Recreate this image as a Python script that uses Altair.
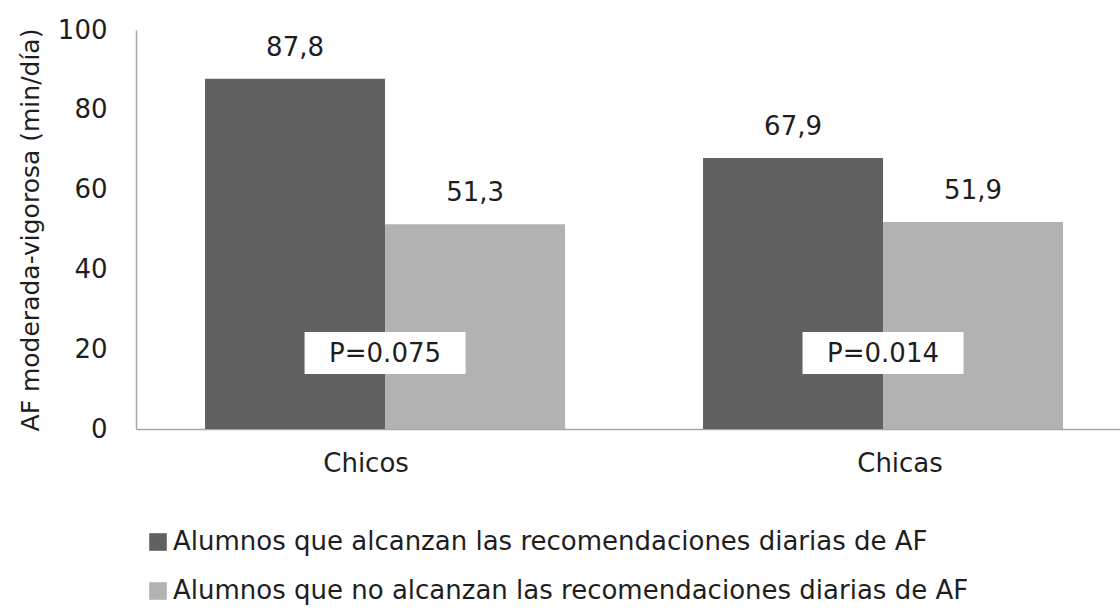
import altair as alt
import pandas as pd

categorias = ["Chicos", "Chicas"]
series = [
    "Alumnos que alcanzan las recomendaciones diarias de AF",
    "Alumnos que no alcanzan las recomendaciones diarias de AF",
]
alcanzan = [87.8, 67.9]
no_alcanzan = [51.3, 51.9]
etiquetas_alcanzan = ["87,8", "67,9"]
etiquetas_no = ["51,3", "51,9"]
p_valores = ["P=0.075", "P=0.014"]
p_caja_inf = [13.8, 13.8]
p_caja_sup = [24.3, 24.3]
p_texto = [18.8, 18.8]
colores = ["#616161", "#b2b2b2"]
ticks_y = [0, 20, 40, 60, 80, 100]
titulo_y = "AF moderada-vigorosa (min/día)"

FONT = "DejaVu Sans"
TXT = "#1e1e1e"
FS = 26

rows = []
for i, c in enumerate(categorias):
    rows.append({"cat": c, "serie": series[0], "valor": alcanzan[i], "etiqueta": etiquetas_alcanzan[i]})
    rows.append({"cat": c, "serie": series[1], "valor": no_alcanzan[i], "etiqueta": etiquetas_no[i]})
df = pd.DataFrame(rows)

pdf = pd.DataFrame({"cat": categorias, "p": p_valores, "y0": p_caja_inf, "y1": p_caja_sup, "ym": p_texto})
cdf = pd.DataFrame({"cat": categorias})

xscale = alt.Scale(domain=categorias, paddingInner=0.277, paddingOuter=0.1265, align=0.548)
xaxis = alt.Axis(labels=False, ticks=False, domainColor="#a6a6a6", domainWidth=1.5, title=None)
yscale = alt.Scale(domain=[0, 100])
yaxis = alt.Axis(values=ticks_y, grid=False, ticks=False, domainColor="#a6a6a6", domainWidth=1.5,
                 labelPadding=29, labelFontSize=FS, labelFont=FONT, labelColor=TXT,
                 title=titulo_y, titleFont=FONT, titleFontSize=25, titleFontWeight="normal",
                 titleColor=TXT, titlePadding=14)

X = lambda: alt.X("cat:N", scale=xscale, axis=xaxis, sort=categorias)
XO = alt.XOffset("serie:N", sort=series, scale=alt.Scale(domain=series, paddingInner=0, paddingOuter=0))

bars = alt.Chart(df).mark_bar().encode(
    x=X(),
    xOffset=XO,
    y=alt.Y("valor:Q", scale=yscale, axis=yaxis),
    color=alt.Color("serie:N", scale=alt.Scale(domain=series, range=colores),
                    legend=alt.Legend(orient="none", legendX=9, legendY=499, direction="vertical",
                                      title=None, symbolType="square", symbolSize=310,
                                      symbolStrokeWidth=0, labelFont=FONT, labelFontSize=FS,
                                      labelColor=TXT, labelOffset=2, rowPadding=23, labelLimit=1000,
                                      padding=0)),
)

labels = alt.Chart(df).mark_text(baseline="bottom", dy=-18, fontSize=FS, font=FONT, color=TXT).encode(
    x=X(),
    xOffset=XO,
    y=alt.Y("valor:Q", scale=yscale, axis=yaxis),
    text="etiqueta:N",
)

pbox = alt.Chart(pdf).mark_bar(width=161, color="white").encode(
    x=X(),
    y=alt.Y("y0:Q", scale=yscale, axis=yaxis),
    y2="y1:Q",
)

ptext = alt.Chart(pdf).mark_text(baseline="middle", fontSize=FS, font=FONT, color=TXT).encode(
    x=X(),
    y=alt.Y("ym:Q", scale=yscale, axis=yaxis),
    text="p:N",
)

xl1 = alt.Chart(cdf).transform_filter(alt.datum.cat == categorias[0]).mark_text(
    baseline="alphabetic", dy=43, dx=-19, fontSize=FS, font=FONT, color=TXT
).encode(x=X(), y=alt.datum(0), text="cat:N")
xl2 = alt.Chart(cdf).transform_filter(alt.datum.cat == categorias[1]).mark_text(
    baseline="alphabetic", dy=43, dx=17, fontSize=FS, font=FONT, color=TXT
).encode(x=X(), y=alt.datum(0), text="cat:N")

chart = alt.layer(bars, labels, pbox, ptext, xl1, xl2).properties(
    width=984, height=399,
    padding={"left": 136, "top": 30, "right": 0, "bottom": 179},
    autosize="none",
).configure_view(stroke=None)

chart.save("out.html", embed_options={"renderer": "svg", "actions": False})
